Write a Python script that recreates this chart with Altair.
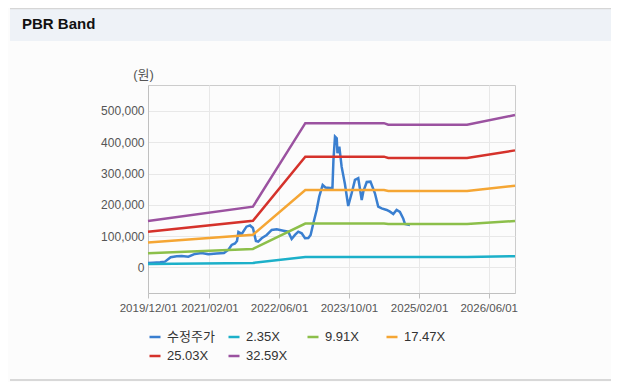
import altair as alt
import pandas as pd

# ---- data ----
series_names = ["수정주가", "2.35X", "9.91X", "17.47X", "25.03X", "32.59X"]
series_colors = ["#3a7fd0", "#1cb0c9", "#8cbf4a", "#f5a634", "#d5322b", "#9b52a0"]

band_dates = ["2019-12-01", "2021-12-01", "2022-12-01", "2024-06-01",
              "2024-07-01", "2026-01-01", "2026-12-01"]
band_235 = [10700, 14000, 33200, 33200, 32900, 32900, 35500]
band_991 = [45000, 59000, 140000, 140000, 138600, 138600, 148000]
band_1747 = [79400, 104000, 247000, 247000, 244500, 244500, 261000]
band_2503 = [113700, 149000, 354000, 354000, 350000, 350000, 374000]
band_3259 = [148000, 194000, 461000, 461000, 456000, 456000, 487000]

price_dates = [
    "2019-12-01", "2020-01-05", "2020-02-23", "2020-03-28", "2020-05-07", "2020-06-18",
    "2020-07-23", "2020-09-07", "2020-10-23", "2020-12-09", "2021-01-24", "2021-03-24",
    "2021-05-13", "2021-06-12", "2021-07-06", "2021-07-29", "2021-08-12", "2021-08-22",
    "2021-09-14", "2021-10-17", "2021-11-11", "2021-12-01", "2021-12-22", "2022-01-07",
    "2022-01-31", "2022-03-07", "2022-04-11", "2022-05-16", "2022-07-01", "2022-08-04",
    "2022-08-28", "2022-09-20", "2022-10-13", "2022-11-06", "2022-11-29", "2022-12-22",
    "2023-01-07", "2023-01-26", "2023-02-18", "2023-03-08", "2023-04-01", "2023-04-20",
    "2023-06-08", "2023-06-15", "2023-06-26", "2023-07-08", "2023-07-13", "2023-07-26",
    "2023-08-11", "2023-09-03", "2023-09-26", "2023-10-20", "2023-11-12", "2023-12-05",
    "2023-12-29", "2024-01-09", "2024-02-02", "2024-02-28", "2024-03-30", "2024-04-22",
    "2024-05-16", "2024-06-20", "2024-07-13", "2024-08-05", "2024-08-28", "2024-09-20",
    "2024-10-13", "2024-10-25", "2024-11-29",
]
price_values = [
    14000, 15000, 16300, 18200, 32300, 35500,
    36400, 34200, 42800, 46000, 41900, 44400,
    46000, 55600, 71600, 76400, 84400, 113000,
    106800, 130000, 134000, 126000, 84400, 82200,
    93000, 103600, 119600, 121800, 117300, 114100,
    90800, 103600, 114100, 109000, 93000, 94000,
    103600, 141000, 183500, 226000, 263400, 255400,
    252900, 343000, 418000, 412700, 364800, 385900,
    322000, 266600, 196300, 236900, 279400, 284900,
    215500, 242000, 273000, 274000, 236900, 194000,
    188300, 183500, 178000, 170700, 183500, 177000,
    156300, 138700, 135500,
]

x_tick_dates = [(2019, 12), (2021, 2), (2022, 6), (2023, 10), (2025, 2), (2026, 6)]
y_ticks = [0, 100000, 200000, 300000, 400000, 500000]

# ---- one long table: price first so it is drawn underneath the bands ----
rows = [{"date": d, "value": v, "series": series_names[0]} for d, v in zip(price_dates, price_values)]
for name, vals in zip(series_names[1:], [band_235, band_991, band_1747, band_2503, band_3259]):
    for d, v in zip(band_dates, vals):
        rows.append({"date": d, "value": v, "series": name})
df = pd.DataFrame(rows)

FONT = "Liberation Sans, Noto Sans CJK KR, sans-serif"

x_enc = alt.X(
    "date:T",
    scale=alt.Scale(type="utc",
                    domain=[alt.DateTime(year=2019, month=12, date=1, utc=True),
                            alt.DateTime(year=2026, month=12, date=1, utc=True)],
                    nice=False),
    axis=alt.Axis(values=[alt.DateTime(year=y, month=m, date=1, utc=True) for y, m in x_tick_dates],
                  labelExpr="utcFormat(datum.value, '%Y/%m/%d')", title=None, tickSize=5,
                  labelPadding=4, labelFontSize=11.5, labelOverlap=False, labelFlush=False),
)
y_enc = alt.Y(
    "value:Q",
    scale=alt.Scale(domain=[-82000, 583000], nice=False, zero=False),
    axis=alt.Axis(values=y_ticks, format=",d", tickSize=0, labelPadding=4, labelFontSize=12,
                  title="(원)", titleAngle=0, titleX=-5, titleY=-11, titleAlign="center",
                  titleBaseline="middle", titleFontSize=13, titleFontWeight="normal",
                  titleColor="#555555", titleFont=FONT),
)
color_enc = alt.Color(
    "series:N",
    sort=series_names,
    scale=alt.Scale(domain=series_names, range=series_colors),
    legend=alt.Legend(title=None, orient="none", legendX=0, legendY=245, columns=4,
                      direction="horizontal",
                      symbolType="stroke", symbolSize=121, symbolStrokeWidth=2.5,
                      labelFontSize=13, labelColor="#333333", labelFont=FONT,
                      labelOffset=5, gridAlign="all", columnPadding=8, rowPadding=5),
)

one = pd.DataFrame({"a": [0]})
header_bg = alt.Chart(one).mark_rect(color="#eef2f7").encode(
    x=alt.value(-138), x2=alt.value(463), y=alt.value(-77), y2=alt.value(-44))
top_border = alt.Chart(one).mark_rule(color="#d6d6d6", strokeWidth=1.5).encode(
    x=alt.value(-138), x2=alt.value(463), y=alt.value(-76.5))
bottom_border = alt.Chart(one).mark_rule(color="#cccccc", strokeWidth=1.5).encode(
    x=alt.value(-138), x2=alt.value(463), y=alt.value(295))
header_text = alt.Chart(pd.DataFrame({"t": ["PBR Band"]})).mark_text(
    align="left", baseline="middle", font=FONT, fontSize=15, fontWeight="bold", color="#111111"
).encode(text="t:N", x=alt.value(-126), y=alt.value(-61))

lines = alt.Chart(df).mark_line(strokeWidth=2.5).encode(
    x=x_enc, y=y_enc, color=color_enc)

chart = alt.layer(header_bg, top_border, bottom_border, header_text, lines).properties(
    width=367, height=208,
    autosize=alt.AutoSizeParams(type="none"),
    padding={"left": 140, "top": 77, "right": 96, "bottom": 89},
    background="#fcfcfc",
).configure_axis(
    gridColor="#e8e8e8", domainColor="#c0c0c0", tickColor="#c0c0c0",
    labelColor="#555555", labelFont=FONT,
).configure_view(stroke="#cccccc")

chart.save("out.html", embed_options={"renderer": "svg", "actions": False})
